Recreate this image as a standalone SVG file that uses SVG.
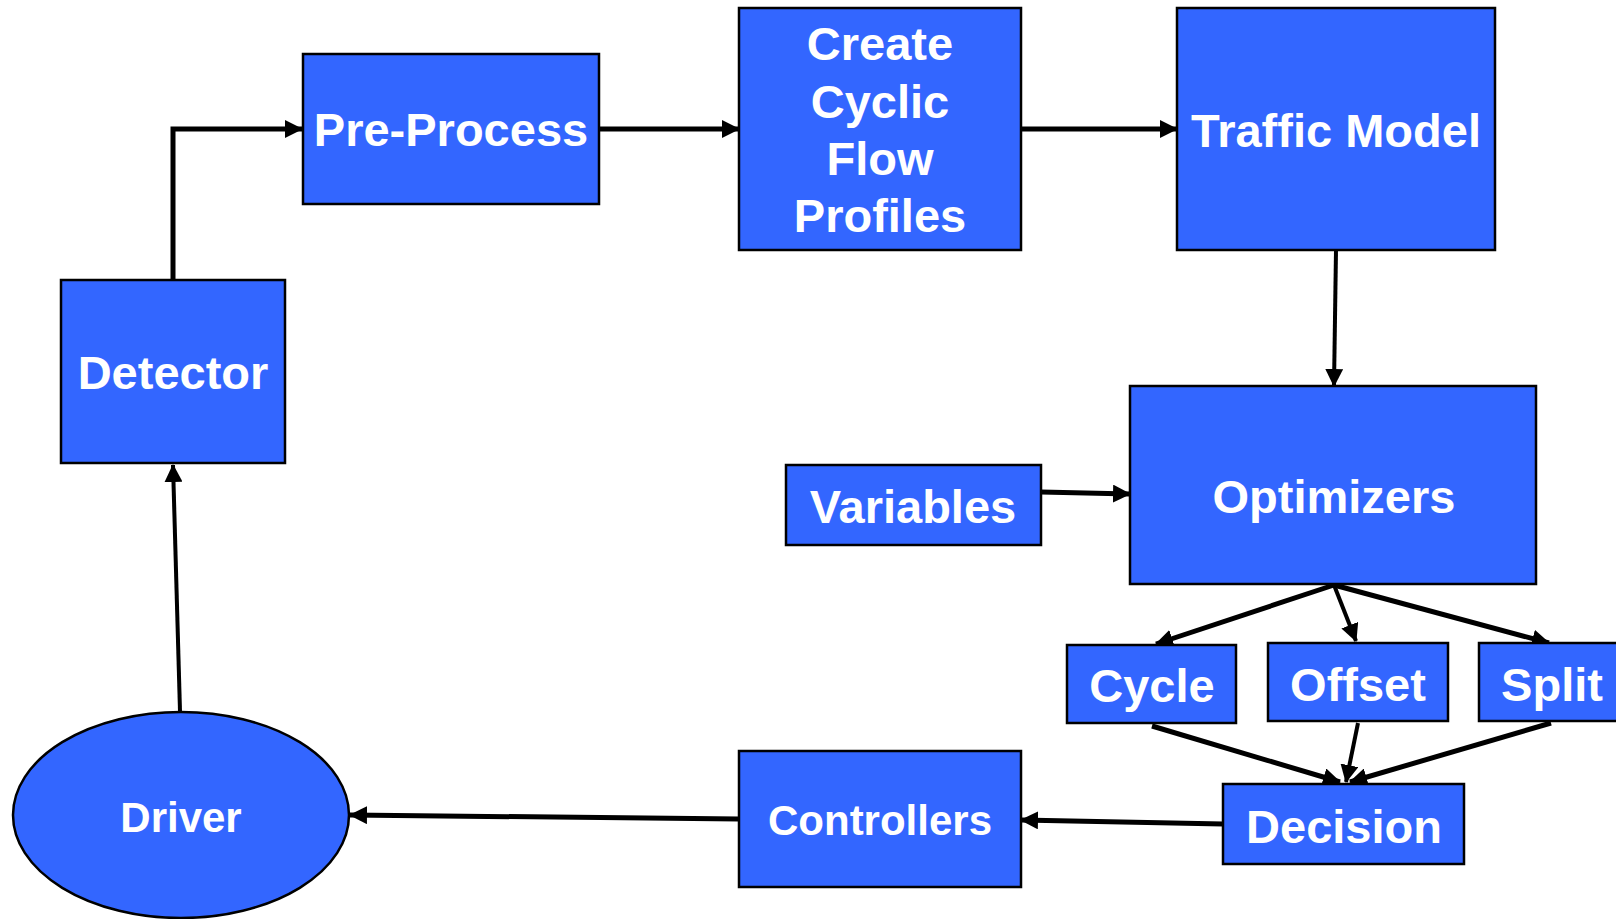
<svg xmlns="http://www.w3.org/2000/svg" width="1616" height="919" viewBox="0 0 1616 919">
<style>
.box{fill:#3366FF;stroke:#000;stroke-width:2.5}
.t{font-family:"Liberation Sans",Arial,sans-serif;font-weight:bold;font-size:47px;fill:#fff;text-anchor:middle}
.ts{font-size:42px}
.c{fill:none;stroke:#000;stroke-width:5}
.thin{stroke-width:4}
</style>
<defs>
<marker id="ah" markerUnits="userSpaceOnUse" markerWidth="18" markerHeight="18" refX="17" refY="9" orient="auto" viewBox="0 0 18 18">
<path d="M0,0 L18,9 L0,18 Z" fill="#000"/>
</marker>
</defs>
<rect width="1616" height="919" fill="#fff"/>
<g id="connectors">
<path class="c" d="M173,280 V129 H302" marker-end="url(#ah)"/>
<path class="c" d="M600,129 H739" marker-end="url(#ah)"/>
<path class="c" d="M1021,129 H1177" marker-end="url(#ah)"/>
<path class="c thin" d="M1336,250 L1334,386" marker-end="url(#ah)"/>
<path class="c" d="M1041,492 L1130,494" marker-end="url(#ah)"/>
<path class="c" d="M1334,585 L1156,644" marker-end="url(#ah)"/>
<path class="c thin" d="M1334,585 L1356,641" marker-end="url(#ah)"/>
<path class="c" d="M1334,585 L1549,643" marker-end="url(#ah)"/>
<path class="c" d="M1152,726 L1340,782" marker-end="url(#ah)"/>
<path class="c thin" d="M1358,723 L1346,782" marker-end="url(#ah)"/>
<path class="c" d="M1551,723 L1350,782" marker-end="url(#ah)"/>
<path class="c" d="M1223,824 L1021,820" marker-end="url(#ah)"/>
<path class="c" d="M739,819 L350,815" marker-end="url(#ah)"/>
<path class="c thin" d="M180,711 L173,465" marker-end="url(#ah)"/>
</g>
<g id="preprocess">
<rect class="box" x="303" y="54" width="296" height="150"/>
<text class="t" x="451" y="146">Pre-Process</text>
</g>
<g id="create">
<rect class="box" x="739" y="8" width="282" height="242"/>
<text class="t" x="880" y="60">Create</text>
<text class="t" x="880" y="118">Cyclic</text>
<text class="t" x="880" y="175">Flow</text>
<text class="t" x="880" y="232">Profiles</text>
</g>
<g id="traffic">
<rect class="box" x="1177" y="8" width="318" height="242"/>
<text class="t" x="1336" y="147">Traffic Model</text>
</g>
<g id="detector">
<rect class="box" x="61" y="280" width="224" height="183"/>
<text class="t" x="173" y="389">Detector</text>
</g>
<g id="optimizers">
<rect class="box" x="1130" y="386" width="406" height="198"/>
<text class="t" x="1334" y="513">Optimizers</text>
</g>
<g id="variables">
<rect class="box" x="786" y="465" width="255" height="80"/>
<text class="t" x="913" y="523">Variables</text>
</g>
<g id="cycle">
<rect class="box" x="1067" y="645" width="169" height="78"/>
<text class="t" x="1152" y="702">Cycle</text>
</g>
<g id="offset">
<rect class="box" x="1268" y="643" width="180" height="78"/>
<text class="t" x="1358" y="701">Offset</text>
</g>
<g id="split">
<rect class="box" x="1479" y="643" width="145" height="78"/>
<text class="t" x="1552" y="701">Split</text>
</g>
<g id="decision">
<rect class="box" x="1223" y="784" width="241" height="80"/>
<text class="t" x="1344" y="843">Decision</text>
</g>
<g id="controllers">
<rect class="box" x="739" y="751" width="282" height="136"/>
<text class="t ts" x="880" y="835">Controllers</text>
</g>
<g id="driver">
<ellipse class="box" cx="181" cy="815" rx="168" ry="103"/>
<text class="t ts" x="181" y="832">Driver</text>
</g>
</svg>
